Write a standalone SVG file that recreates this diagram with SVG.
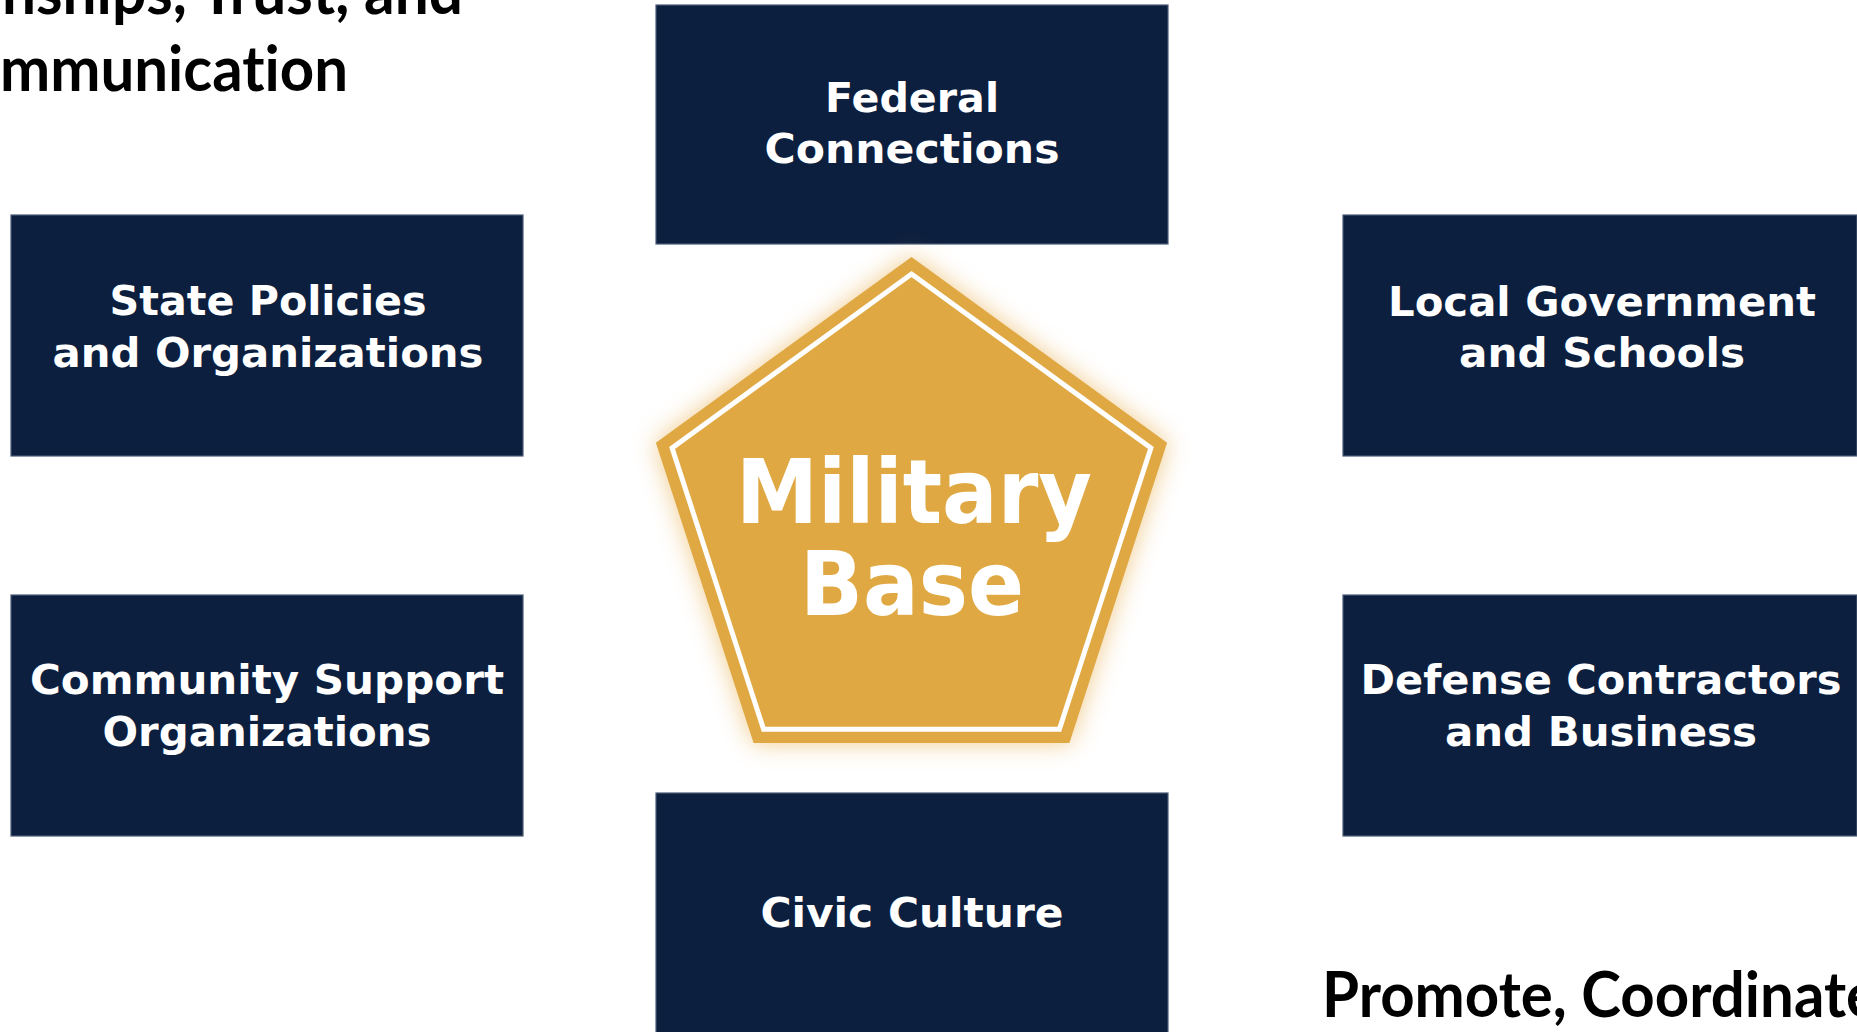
<svg xmlns="http://www.w3.org/2000/svg" width="1857" height="1032" viewBox="0 0 1857 1032">
  <defs>
    <style>
      .box { fill: #0C1F3F; stroke: #4A5A74; stroke-width: 1.2; }
      .lbl { font-family: "DejaVu Sans", "Liberation Sans", sans-serif; font-weight: bold; font-size: 41px; fill: #FFFFFF; text-anchor: middle; }
      .big { font-family: "DejaVu Sans", "Liberation Sans", sans-serif; font-weight: bold; font-size: 89px; fill: #FFFFFF; text-anchor: middle; }
      .cap { font-family: Lato, "Open Sans", "Liberation Sans", sans-serif; font-weight: bold; font-size: 63px; fill: #000000; font-variant-ligatures: none; }
    </style>
    <filter id="glow" x="-25%" y="-25%" width="150%" height="150%">
      <feGaussianBlur stdDeviation="12"/>
    </filter>
  </defs>
  <rect width="1857" height="1032" fill="#FFFFFF"/>

  <g id="caption-top">
    <text class="cap" x="2" y="14" textLength="461" lengthAdjust="spacingAndGlyphs">nships, Trust, and</text>
    <text class="cap" x="0" y="91" textLength="348" lengthAdjust="spacingAndGlyphs">mmunication</text>
  </g>
  <g id="caption-bottom">
    <text class="cap" x="1322" y="1017" textLength="556" lengthAdjust="spacingAndGlyphs">Promote, Coordinate</text>
  </g>

  <g id="connectors"></g>

  <g id="federal">
    <rect class="box" x="656" y="5" width="512" height="239"/>
    <text class="lbl" x="912" y="112" textLength="174" lengthAdjust="spacingAndGlyphs">Federal</text>
    <text class="lbl" x="912" y="163" textLength="295" lengthAdjust="spacingAndGlyphs">Connections</text>
  </g>

  <g id="state">
    <rect class="box" x="11" y="215" width="512" height="241"/>
    <text class="lbl" x="268" y="315" textLength="317" lengthAdjust="spacingAndGlyphs">State Policies</text>
    <text class="lbl" x="268" y="367" textLength="431" lengthAdjust="spacingAndGlyphs">and Organizations</text>
  </g>

  <g id="local">
    <rect class="box" x="1343" y="215" width="514" height="241"/>
    <text class="lbl" x="1602" y="316" textLength="428" lengthAdjust="spacingAndGlyphs">Local Government</text>
    <text class="lbl" x="1602" y="367" textLength="286" lengthAdjust="spacingAndGlyphs">and Schools</text>
  </g>

  <g id="community">
    <rect class="box" x="11" y="595" width="512" height="241"/>
    <text class="lbl" x="267" y="694" textLength="474" lengthAdjust="spacingAndGlyphs">Community Support</text>
    <text class="lbl" x="267" y="746" textLength="329" lengthAdjust="spacingAndGlyphs">Organizations</text>
  </g>

  <g id="defense">
    <rect class="box" x="1343" y="595" width="514" height="241"/>
    <text class="lbl" x="1601" y="694" textLength="481" lengthAdjust="spacingAndGlyphs">Defense Contractors</text>
    <text class="lbl" x="1601" y="746" textLength="312" lengthAdjust="spacingAndGlyphs">and Business</text>
  </g>

  <g id="civic">
    <rect class="box" x="656" y="793" width="512" height="245"/>
    <text class="lbl" x="912" y="927" textLength="303" lengthAdjust="spacingAndGlyphs">Civic Culture</text>
  </g>

  <g id="military-base">
    <polygon points="911.5,257 1167.1,442.7 1069.4,743.1 753.6,743.1 655.9,442.7" fill="#EDBE6E" opacity="0.8" filter="url(#glow)"/>
    <polygon points="911.5,257 1167.1,442.7 1069.4,743.1 753.6,743.1 655.9,442.7" fill="#E0A842"/>
    <polygon points="911.5,274 1150.9,447.9 1059.4,729.3 763.6,729.3 672.1,447.9" fill="none" stroke="#FFFFFF" stroke-width="5"/>
    <text class="big" x="914" y="523" textLength="356" lengthAdjust="spacingAndGlyphs">Military</text>
    <text class="big" x="912" y="615" textLength="224" lengthAdjust="spacingAndGlyphs">Base</text>
  </g>
</svg>
